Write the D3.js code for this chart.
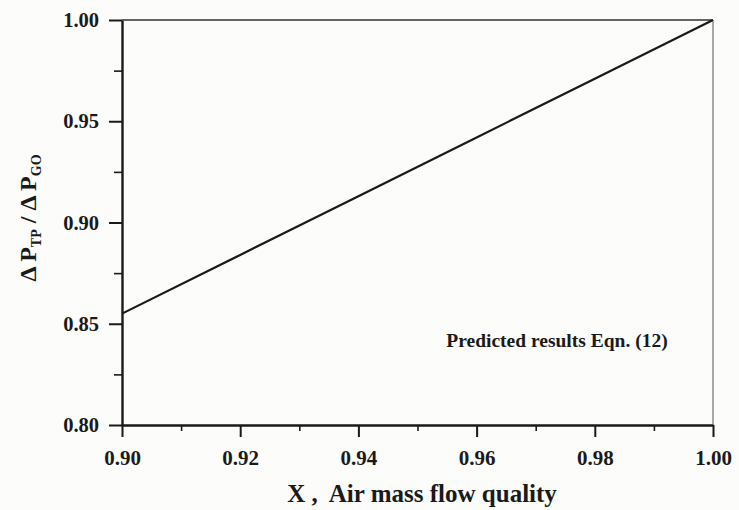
<!DOCTYPE html>
<html>
<head>
<meta charset="utf-8">
<script src="https://cdn.jsdelivr.net/npm/d3@7/dist/d3.min.js"></script>
<style>
  body { margin: 0; background: #fcfcfa; }
  svg { display: block; }
  .tick text { font-family: "Liberation Serif", "Times New Roman", serif; font-weight: bold; fill: #1a1a1a; }
  .x-axis .tick text { font-size: 21px; }
  .y-axis .tick text { font-size: 20.5px; }
  .domain, .tick line { stroke: #1a1a1a; }
</style>
</head>
<body>
<svg id="chart"></svg>
<script>
// data
var airQuality = [0.90, 0.92, 0.94, 0.96, 0.98, 1.00];
var pressureRatio = [0.855, 0.884, 0.913, 0.942, 0.971, 1.000];
var xTickValues = [0.90, 0.92, 0.94, 0.96, 0.98, 1.00];
var yTickValues = [0.80, 0.85, 0.90, 0.95, 1.00];
var noteText = "Predicted results Eqn. (12)";

var WIDTH = 739,
    HEIGHT = 510,
    MARGINS = { top: 20, right: 26, bottom: 85, left: 122 };

var svg = d3.select("#chart").attr("width", WIDTH).attr("height", HEIGHT);

var xScale = d3.scaleLinear()
    .domain([0.90, 1.00])
    .range([MARGINS.left, WIDTH - MARGINS.right]);
var yScale = d3.scaleLinear()
    .domain([0.80, 1.00])
    .range([HEIGHT - MARGINS.bottom, MARGINS.top]);

var fmt = d3.format(".2f");
var serif = "Liberation Serif, Times New Roman, serif";

// minor ticks first, majors on top
svg.append("g")
    .attr("transform", "translate(0," + (HEIGHT - MARGINS.bottom) + ")")
    .call(d3.axisBottom(xScale).tickValues(d3.range(0.91, 1.0, 0.02)).tickSize(6).tickFormat(""))
    .call(function(g) { g.select(".domain").remove(); })
    .selectAll("line").attr("stroke-width", 1.6);

svg.append("g")
    .attr("transform", "translate(" + MARGINS.left + ",0)")
    .call(d3.axisLeft(yScale).tickValues(d3.range(0.825, 1.0, 0.05)).tickSize(8).tickFormat(""))
    .call(function(g) { g.select(".domain").remove(); })
    .selectAll("line").attr("stroke-width", 1.6);

var xAxis = svg.append("g")
    .attr("class", "x-axis")
    .attr("transform", "translate(0," + (HEIGHT - MARGINS.bottom) + ")")
    .call(d3.axisBottom(xScale).tickValues(xTickValues).tickSize(12).tickSizeOuter(0).tickPadding(13).tickFormat(fmt));
xAxis.select(".domain").attr("stroke-width", 2.4);
xAxis.selectAll(".tick line").attr("stroke-width", 2);

var yAxis = svg.append("g")
    .attr("class", "y-axis")
    .attr("transform", "translate(" + MARGINS.left + ",0)")
    .call(d3.axisLeft(yScale).tickValues(yTickValues).tickSize(13).tickSizeOuter(0).tickPadding(10).tickFormat(fmt));
yAxis.select(".domain").attr("stroke-width", 2.4);
yAxis.selectAll(".tick line").attr("stroke-width", 2);

// top and right frame
svg.append("line")
    .attr("x1", xScale(0.90)).attr("x2", xScale(1.00))
    .attr("y1", yScale(1.00)).attr("y2", yScale(1.00))
    .attr("stroke", "#333").attr("stroke-width", 1.3);
svg.append("line")
    .attr("x1", xScale(1.00)).attr("x2", xScale(1.00))
    .attr("y1", yScale(1.00)).attr("y2", yScale(0.80))
    .attr("stroke", "#555").attr("stroke-width", 1);

var lineGen = d3.line()
    .x(function(d, i) { return xScale(airQuality[i]); })
    .y(function(d) { return yScale(d); });

svg.append("path")
    .attr("d", lineGen(pressureRatio))
    .attr("fill", "none")
    .attr("stroke", "#1a1a1a")
    .attr("stroke-width", 2.2);

svg.append("text")
    .attr("x", xScale(0.9736))
    .attr("y", yScale(0.8385))
    .attr("text-anchor", "middle")
    .attr("font-family", serif)
    .attr("font-weight", "bold")
    .attr("font-size", 19.5)
    .attr("fill", "#1a1a1a")
    .text(noteText);

// axis titles
svg.append("text")
    .attr("x", 422)
    .attr("y", 502)
    .attr("text-anchor", "middle")
    .attr("font-family", serif)
    .attr("font-weight", "bold")
    .attr("font-size", 25)
    .attr("fill", "#1a1a1a")
    .attr("xml:space", "preserve")
    .text("X ,  Air mass flow quality");

var yTitle = svg.append("text")
    .attr("transform", "translate(36,218) rotate(-90)")
    .attr("text-anchor", "middle")
    .attr("font-family", serif)
    .attr("font-weight", "bold")
    .attr("font-size", 24)
    .attr("fill", "#1a1a1a");
yTitle.append("tspan").text("\u0394 P");
yTitle.append("tspan").attr("font-size", 14).attr("dy", 5).text("TP");
yTitle.append("tspan").attr("dy", -5).text(" / \u0394 P");
yTitle.append("tspan").attr("font-size", 14).attr("dy", 5).text("GO");
</script>
</body>
</html>
